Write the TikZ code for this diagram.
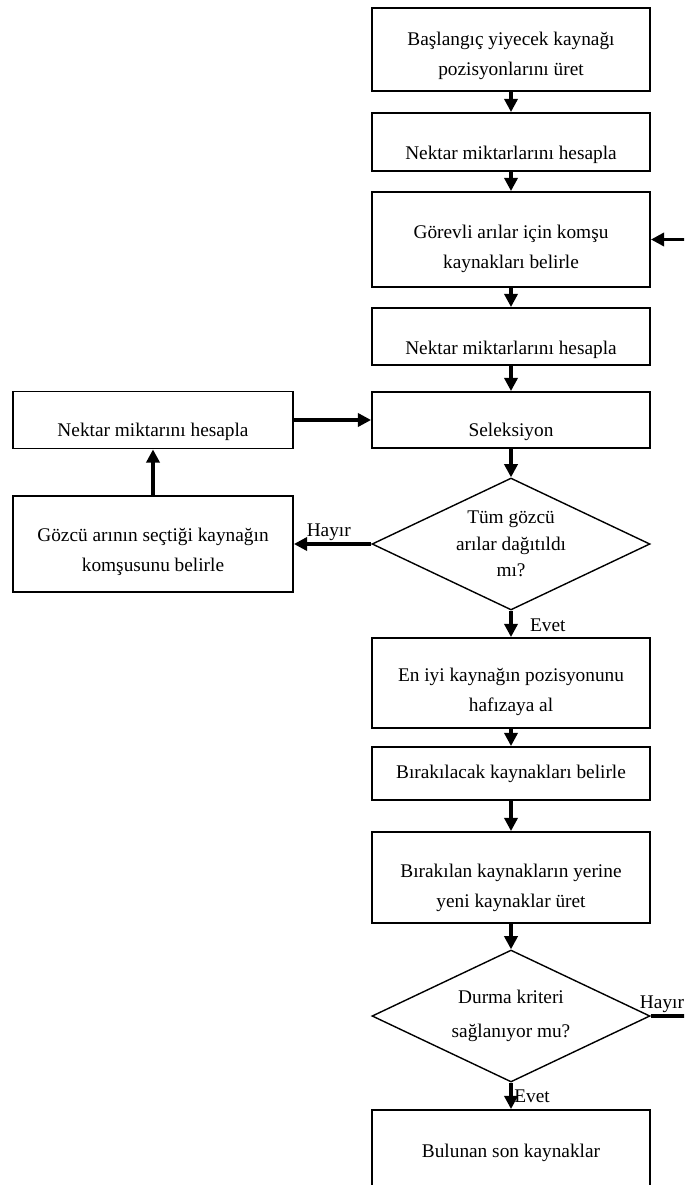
\documentclass[tikz,border=0pt]{standalone}
\usepackage{fontspec}
\setmainfont{Liberation Serif}
\usetikzlibrary{shapes.geometric,arrows.meta}
\newcommand{\ustbosluk}[1]{\rule{0pt}{#1}}
\tikzset{
  kutu/.style={draw, line width=1.1pt, minimum width=5.56cm, align=center,
    inner sep=2pt, font=\fontsize{11}{17}\selectfont},
  karar/.style={draw, diamond, aspect=2, line width=0.8pt, minimum width=5.56cm,
    minimum height=2.64cm, inner sep=1pt, align=center},
  ok/.style={line width=1.8pt, -{Triangle[length=7.5pt,width=7.5pt]}},
  etiket/.style={inner sep=1pt, font=\fontsize{11}{13}\selectfont}
}
\begin{document}
\begin{tikzpicture}[x=0.02cm,y=-0.02cm]
    \useasboundingbox (0,0) rectangle (684,1185);
    \clip (0,0) rectangle (684,1185);
    \node[kutu, minimum height=1.66cm] (baslangic) at (511,49.5) {\ustbosluk{14.5pt}Başlangıç yiyecek kaynağı\\pozisyonlarını üret};
    \node[kutu, minimum height=1.16cm] (nektar1) at (511,142) {\ustbosluk{22pt}Nektar miktarlarını hesapla};
    \node[kutu, minimum height=1.9cm] (gorevli) at (511,239.5) {\ustbosluk{18pt}Görevli arılar için komşu\\kaynakları belirle};
    \node[kutu, minimum height=1.14cm] (nektar2) at (511,336.5) {\ustbosluk{23pt}Nektar miktarlarını hesapla};
    \node[kutu, minimum height=1.12cm] (seleksiyon) at (511,420) {\ustbosluk{21pt}Seleksiyon};
    \node[kutu, minimum width=5.6cm, minimum height=1.14cm] (nektar3) at (153,420) {\ustbosluk{21pt}Nektar miktarını hesapla};
    \node[kutu, minimum width=5.6cm, minimum height=1.92cm] (gozcu) at (153,544) {\ustbosluk{16.5pt}Gözcü arının seçtiği kaynağın\\komşusunu belirle};
    \node[karar, font=\fontsize{11}{15}\selectfont] (dagitildi) at (511,544) {Tüm gözcü\\arılar dağıtıldı\\mı?};
    \node[kutu, minimum height=1.8cm] (eniyi) at (511,683) {\ustbosluk{18pt}En iyi kaynağın pozisyonunu\\hafızaya al};
    \node[kutu, minimum height=1.06cm] (birakilacak) at (511,773.5) {Bırakılacak kaynakları belirle};
    \node[kutu, minimum height=1.82cm] (birakilan) at (511,877.5) {\ustbosluk{19pt}Bırakılan kaynakların yerine\\yeni kaynaklar üret};
    \node[karar, font=\fontsize{11}{19}\selectfont] (durma) at (511,1016) {Durma kriteri\\sağlanıyor mu?};
    \node[kutu, minimum height=1.7cm] (bulunan) at (511,1152.5) {Bulunan son kaynaklar};
    \coordinate (donus) at (720,1016);

    \draw[ok] (baslangic.south) -- (nektar1.north);
    \draw[ok] (nektar1.south) -- (gorevli.north);
    \draw[ok] (gorevli.south) -- (nektar2.north);
    \draw[ok] (nektar2.south) -- (seleksiyon.north);
    \draw[ok] (seleksiyon.south) -- (dagitildi.north);
    \draw[ok] (dagitildi.west) -- node[etiket, pos=0.55, above] (hayir1) {Hayır} (gozcu.east);
    \draw[ok] (gozcu.north) -- (nektar3.south);
    \draw[ok] (nektar3.east) -- (seleksiyon.west);
    \draw[ok] (dagitildi.south) -- node[etiket, pos=0.55, right=9pt] (evet1) {Evet} (eniyi.north);
    \draw[ok] (eniyi.south) -- (birakilacak.north);
    \draw[ok] (birakilacak.south) -- (birakilan.north);
    \draw[ok] (birakilan.south) -- (durma.north);
    \draw[ok] (durma.south) -- node[etiket, midway, right] (evet2) {Evet} (bulunan.north);
    \draw[ok] (durma.east) -- node[etiket, pos=0, anchor=south west, xshift=-8pt] (hayir2) {Hayır} (donus) |- (gorevli.east);
\end{tikzpicture}
\end{document}
